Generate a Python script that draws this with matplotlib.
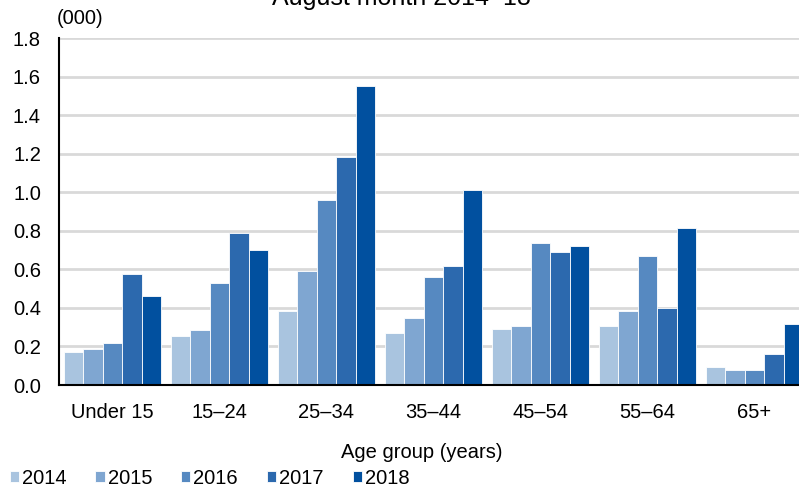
import matplotlib.pyplot as plt
import numpy as np

plt.rcParams['font.family'] = ['Liberation Sans', 'DejaVu Sans']

age_groups = ["Under 15", "15\u201324", "25\u201334", "35\u201344", "45\u201354", "55\u201364", "65+"]
years = ["2014", "2015", "2016", "2017", "2018"]
v2014 = [0.173, 0.254, 0.384, 0.27, 0.29, 0.305, 0.093]
v2015 = [0.188, 0.285, 0.59, 0.35, 0.305, 0.384, 0.076]
v2016 = [0.22, 0.527, 0.96, 0.56, 0.735, 0.67, 0.076]
v2017 = [0.574, 0.79, 1.185, 0.62, 0.69, 0.40, 0.159]
v2018 = [0.462, 0.70, 1.55, 1.01, 0.72, 0.815, 0.316]
series = [v2014, v2015, v2016, v2017, v2018]
colors = ["#A9C4DF", "#7FA6D1", "#5689C1", "#2C69AE", "#01509F"]

fig = plt.figure(figsize=(7.99, 4.88), dpi=100)
ax = fig.add_axes([0.0738, 0.211, 0.9374, 0.711])

x = np.arange(len(age_groups))
w = 0.182
for i, (vals, c, yr) in enumerate(zip(series, colors, years)):
    ax.bar(x + (i - 2) * w, vals, width=w, color=c, edgecolor="white",
           linewidth=0.6, label=yr, zorder=2)

ax.set_xlim(-0.5, len(age_groups) - 0.5)
ax.set_ylim(0, 1.8)
yt = np.arange(0, 1.81, 0.2)
ax.set_yticks(yt)
ax.set_yticklabels([f"{v:.1f}" for v in yt], fontsize=14.5)
ax.set_xticks(x)
ax.set_xticklabels(age_groups, fontsize=14.5)
ax.tick_params(axis="both", length=0)
ax.tick_params(axis="y", pad=13)
ax.tick_params(axis="x", pad=13)
ax.yaxis.grid(True, color="#D9D9D9", linewidth=2, zorder=0)
ax.set_axisbelow(True)
for s in ["top", "right"]:
    ax.spines[s].set_visible(False)
for s in ["left", "bottom"]:
    ax.spines[s].set_linewidth(1.5)
    ax.spines[s].set_zorder(4)

# title sits partly above the top edge, as in the source image
fig.text(0.502, 0.99, "August month 2014\u201318", ha="center", va="baseline", fontsize=18)
fig.text(0.071, 0.963, "(000)", ha="left", va="center", fontsize=14.5)
fig.text(0.528, 0.072, "Age group (years)", ha="center", va="center", fontsize=14.5)

fig.legend(loc="center left", bbox_to_anchor=(0.012, 0.02), ncol=5, frameon=False,
           fontsize=14.5, handlelength=0.45, handleheight=0.45, handletextpad=0.15,
           columnspacing=1.45, borderpad=0, borderaxespad=0)

fig.savefig("out.png", dpi=100)
